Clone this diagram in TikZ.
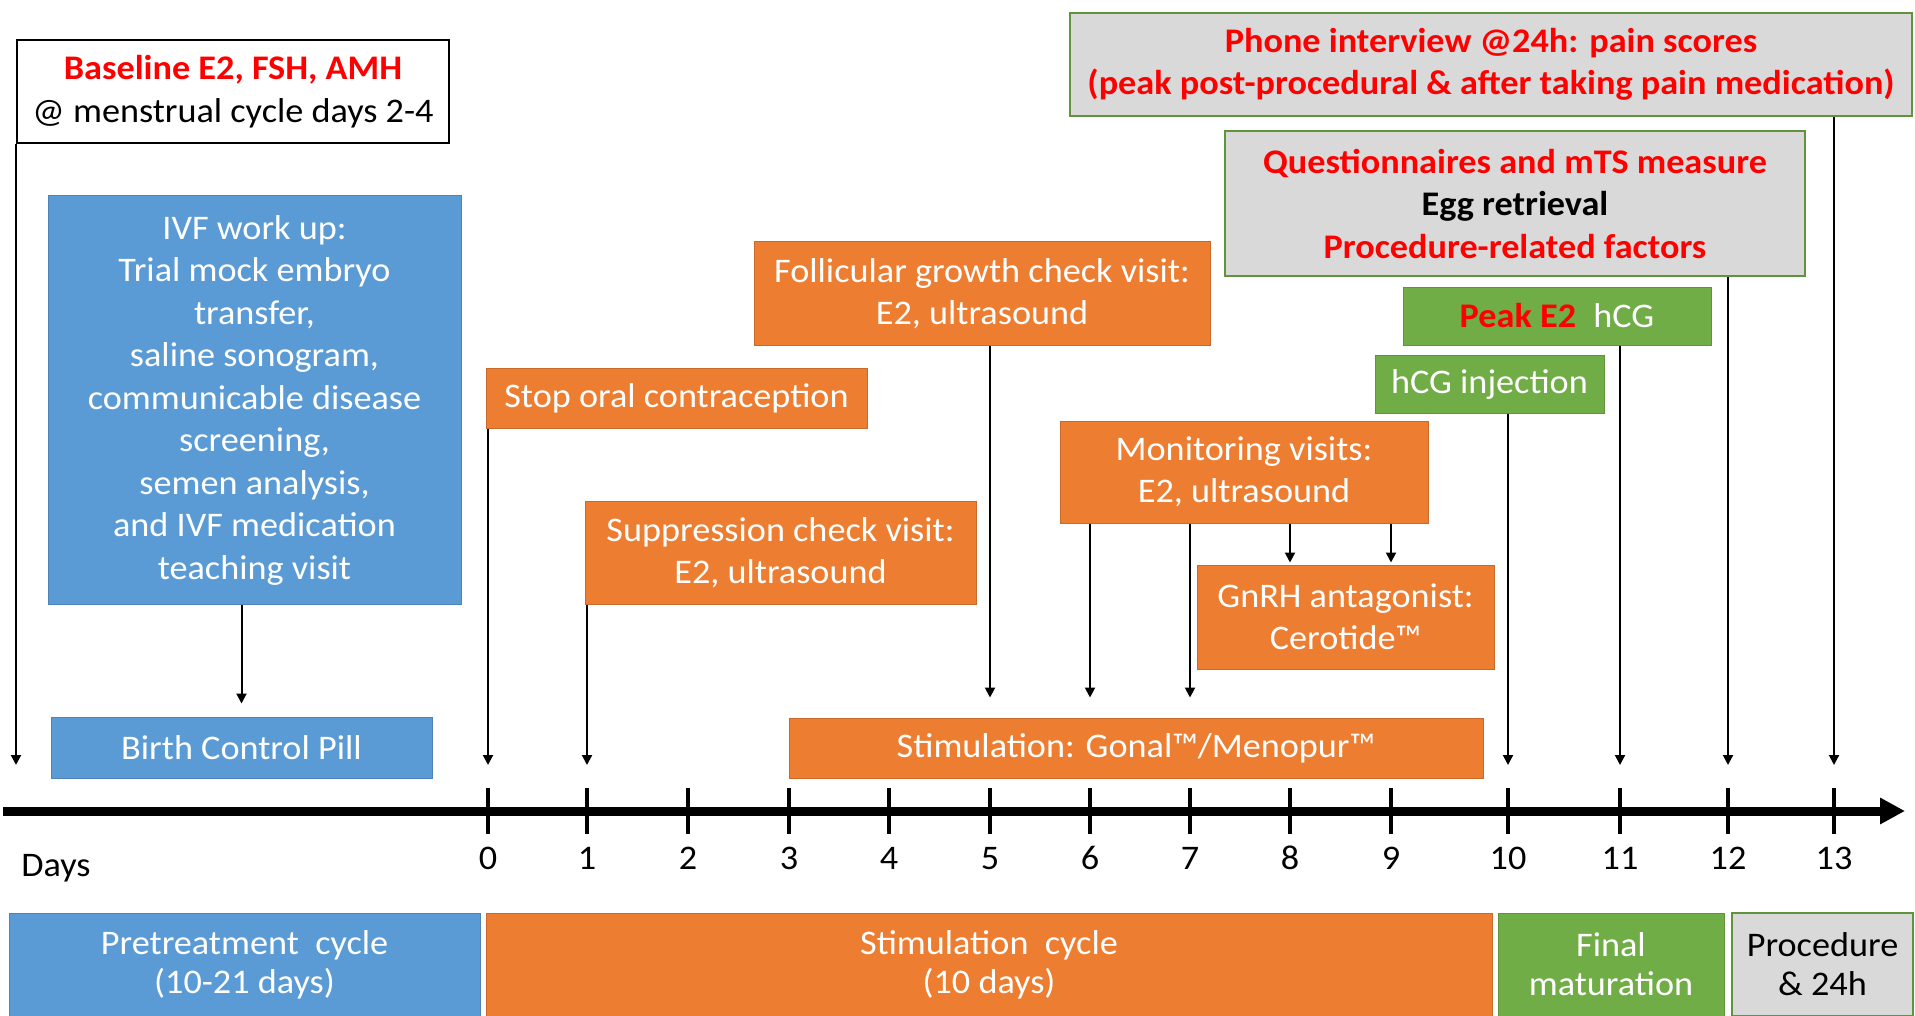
\documentclass[tikz,border=0pt]{standalone}
\usepackage{fontspec}
\setmainfont{Carlito}[FakeStretch=1.05]
\usetikzlibrary{arrows.meta}
\definecolor{ivfblue}{HTML}{5B9BD5}
\definecolor{ivforange}{HTML}{ED7D31}
\definecolor{ivfgreen}{HTML}{70AD47}
\definecolor{ivfgray}{HTML}{D9D9D9}
\definecolor{ivfred}{HTML}{FF0000}
\tikzset{>={Triangle[length=5pt,width=5pt]}}
\tikzset{
  evbox/.style={rectangle, inner sep=0pt, align=center, font=\fontsize{17.25}{21.25}\selectfont},
  bluebox/.style={evbox, fill=ivfblue, draw=ivfblue!85!black, line width=.5pt, text=white},
  orangebox/.style={evbox, fill=ivforange, draw=ivforange!85!black, line width=.5pt, text=white},
  greenbox/.style={evbox, fill=ivfgreen, draw=ivfgreen!85!black, line width=.5pt, text=white},
  graybox/.style={evbox, fill=ivfgray, draw=ivfgreen!85!black, line width=1pt},
  notebox/.style={evbox, fill=white, draw=black, line width=1pt},
  cyclebox/.style={font=\fontsize{17.25}{19.5}\selectfont},
  pointer/.style={->, line width=1pt},
  daytick/.style={line width=2pt},
  daylabel/.style={font=\fontsize{17.25}{21.25}\selectfont, inner sep=0pt, anchor=base},
}

\begin{document}
\begin{tikzpicture}[x=0.5pt, y=-0.5pt]
    \useasboundingbox (0,0) rectangle (1915,1016);

    % pretreatment
    \node[notebox, minimum width=216pt, minimum height=51.5pt] (base) at (233,91.5)
        {\textcolor{ivfred}{\textbf{Baseline E2, FSH, AMH}}\\@ menstrual cycle days 2-4};
    \node[bluebox, minimum width=206.5pt, minimum height=204pt] (ivf) at (254.5,400)
        {IVF work up:\\Trial mock embryo\\transfer,\\saline sonogram,\\communicable disease\\screening,\\semen analysis,\\and IVF medication\\teaching visit};
    \node[bluebox, minimum width=190.5pt, minimum height=30.5pt] (pill) at (241.5,747.5) {Birth Control Pill};

    % stimulation
    \node[orangebox, minimum width=190.5pt, minimum height=30pt] (stop) at (676.5,398) {Stop oral contraception};
    \node[orangebox, minimum width=228pt, minimum height=51.5pt] (follic) at (982,293.5)
        {Follicular growth check visit:\\E2, ultrasound};
    \node[orangebox, minimum width=195.5pt, minimum height=51.5pt] (supp) at (780.5,552.5)
        {Suppression check visit:\\E2, ultrasound};
    \node[orangebox, minimum width=184pt, minimum height=51pt] (monit) at (1244,472)
        {Monitoring visits:\\E2, ultrasound};
    \node[orangebox, minimum width=148.5pt, minimum height=52pt] (gnrh) at (1345.5,617)
        {GnRH antagonist:\\Cerotide™};
    \node[orangebox, minimum width=347pt, minimum height=30pt] (stim) at (1136,748) {Stimulation: Gonal™/Menopur™};

    % maturation and procedure
    \node[greenbox, minimum width=114.5pt, minimum height=29pt] (hcginj) at (1489.5,384) {hCG injection};
    \node[greenbox, minimum width=154pt, minimum height=29pt] (peak) at (1557,316)
        {\textcolor{ivfred}{\textbf{Peak E2}}\hspace{.5em}hCG};
    \node[graybox, minimum width=290pt, minimum height=72.5pt] (quest) at (1515,203.5)
        {\textcolor{ivfred}{\textbf{Questionnaires and mTS measure}}\\\textbf{Egg retrieval}\\\textcolor{ivfred}{\textbf{Procedure-related factors}}};
    \node[graybox, minimum width=421pt, minimum height=51.5pt] (phone) at (1491,64.5)
        {\textcolor{ivfred}{\textbf{Phone interview @24h: pain scores}}\\\textcolor{ivfred}{\textbf{(peak post-procedural \& after taking pain medication)}}};

    % time line
    \draw[line width=4.5pt, -{Triangle[length=12.5pt,width=12.5pt]}] (3,811) -- (1905,811);
    \foreach \d/\x in {0/488,1/587,2/688,3/789,4/889,5/990,6/1090,7/1190,8/1290,9/1391,10/1508,11/1620,12/1728,13/1834} {
        \coordinate (t\d) at (\x,811);
        \draw[daytick] (\x,788) -- (\x,834);
        \node[daylabel] (d\d) at (\x,869) {\d};
    }
    \node[daylabel, anchor=base west] (days) at (21,876) {Days};
    \coordinate (axistop) at (0,765);

    \draw[pointer] (base.south west) -- (base.south west |- axistop);
    \draw[pointer, shorten >=6.5pt] (ivf.south -| pill.north) -- (pill.north);
    \draw[pointer] (stop.south -| t0) -- (t0 |- axistop);
    \draw[pointer] (supp.south -| t1) -- (t1 |- axistop);
    \draw[pointer, shorten >=10pt] (follic.south -| t5) -- (stim.north -| t5);
    \foreach \d in {6,7}
        \draw[pointer, shorten >=10pt] (monit.south -| t\d) -- (stim.north -| t\d);
    \foreach \d in {8,9}
        \draw[pointer, shorten >=1pt] (monit.south -| t\d) -- (gnrh.north -| t\d);
    \draw[pointer] (hcginj.south -| t10) -- (t10 |- axistop);
    \draw[pointer] (peak.south -| t11) -- (t11 |- axistop);
    \draw[pointer] (quest.south -| t12) -- (t12 |- axistop);
    \draw[pointer] (phone.south -| t13) -- (t13 |- axistop);

    % cycles
    \node[bluebox, cyclebox, minimum width=235.5pt, minimum height=51.5pt] (pre) at (244.5,964.5)
        {Pretreatment\ \ cycle\\(10-21 days)};
    \node[orangebox, cyclebox, minimum width=503pt, minimum height=51.5pt] (stimcyc) at (989,964.5)
        {Stimulation\ \ cycle\\(10 days)};
    \node[greenbox, cyclebox, minimum width=113pt, minimum height=51.5pt] (fin) at (1611,964.5)
        {Final\\maturation};
    \node[graybox, cyclebox, minimum width=90.5pt, minimum height=51.5pt] (proc) at (1822.5,964.5)
        {Procedure\\\& 24h};
\end{tikzpicture}
\end{document}
